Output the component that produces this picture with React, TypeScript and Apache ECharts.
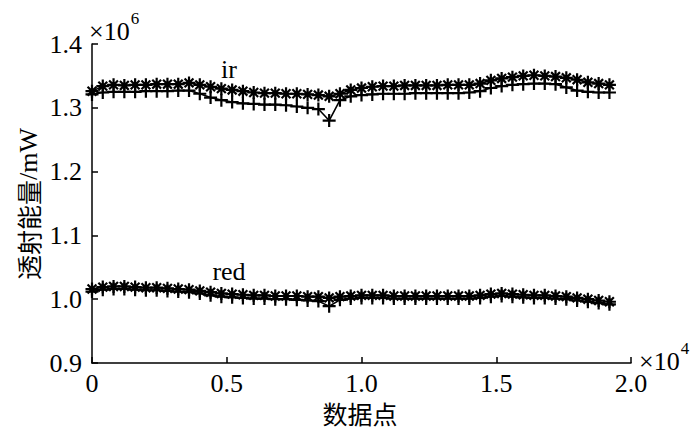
import React, { useEffect, useRef } from "react";
import * as echarts from "echarts";

// x positions of plotted (marker) samples, in data-point index
const xSamples: number[] = [
  0, 400, 800, 1200, 1600, 2000, 2400, 2800, 3200, 3600, 4000, 4400, 4800, 5200, 5600, 6000,
  6400, 6800, 7200, 7600, 8000, 8400, 8800, 9200, 9600, 10000, 10400, 10800, 11200, 11600,
  12000, 12400, 12800, 13200, 13600, 14000, 14400, 14800, 15200, 15600, 16000, 16400, 16800,
  17200, 17600, 18000, 18400, 18800, 19200,
];

// values in units of 10^6 mW
const irStar: number[] = [
  1.326, 1.334, 1.336, 1.335, 1.336, 1.336, 1.337, 1.337, 1.337, 1.339, 1.336, 1.333, 1.330,
  1.328, 1.326, 1.324, 1.323, 1.323, 1.322, 1.322, 1.321, 1.320, 1.318, 1.322, 1.328, 1.331,
  1.333, 1.334, 1.334, 1.335, 1.335, 1.335, 1.335, 1.336, 1.336, 1.336, 1.338, 1.343, 1.346,
  1.348, 1.350, 1.351, 1.350, 1.349, 1.347, 1.344, 1.340, 1.338, 1.336,
];
const irPlus: number[] = [
  1.321, 1.324, 1.325, 1.325, 1.325, 1.326, 1.326, 1.326, 1.327, 1.327, 1.322, 1.316, 1.312,
  1.309, 1.307, 1.306, 1.305, 1.305, 1.304, 1.302, 1.300, 1.298, 1.280, 1.312, 1.318, 1.320,
  1.321, 1.322, 1.322, 1.322, 1.323, 1.323, 1.323, 1.323, 1.323, 1.324, 1.326, 1.331, 1.334,
  1.336, 1.337, 1.338, 1.338, 1.337, 1.332, 1.327, 1.325, 1.324, 1.324,
];
const redStar: number[] = [
  1.016, 1.019, 1.020, 1.020, 1.019, 1.018, 1.018, 1.017, 1.016, 1.015, 1.013, 1.011, 1.009,
  1.008, 1.007, 1.006, 1.006, 1.005, 1.005, 1.005, 1.004, 1.004, 1.002, 1.004, 1.005, 1.006,
  1.006, 1.006, 1.005, 1.005, 1.005, 1.005, 1.005, 1.005, 1.005, 1.005, 1.006, 1.008, 1.009,
  1.008, 1.007, 1.006, 1.006, 1.005, 1.004, 1.002, 1.000, 0.998, 0.996,
];
const redPlus: number[] = [
  1.012, 1.015, 1.016, 1.016, 1.015, 1.014, 1.014, 1.013, 1.012, 1.011, 1.009, 1.006, 1.004,
  1.003, 1.002, 1.001, 1.001, 1.000, 1.000, 0.999, 0.998, 0.997, 0.989, 0.999, 1.001, 1.002,
  1.002, 1.002, 1.001, 1.001, 1.001, 1.001, 1.001, 1.001, 1.001, 1.001, 1.002, 1.004, 1.005,
  1.004, 1.003, 1.002, 1.002, 1.001, 1.000, 0.998, 0.996, 0.994, 0.992,
];

const yMin = 0.9;
const yMax = 1.4;
const yStep = 0.1;
const xMin = 0;
const xMax = 20000;
const xStep = 5000;

const seriesLabels = ["ir", "red"];
const xTitle = "数据点";
const yTitleCjk = "透射能量";
const yTitleUnit = "/mW";

const STAR = "path://M5,0L5,10M0,5L10,5M1.6,1.6L8.4,8.4M8.4,1.6L1.6,8.4";
const PLUS = "path://M5,0L5,10M0,5L10,5";

const SERIF = "'Liberation Serif', 'Times New Roman', serif";
const CJK = "'Noto Sans CJK SC', sans-serif";
const FS = 26;

function pairs(vals: number[]) {
  return vals.map((v, i) => [xSamples[i], v]);
}

function mkSeries(name: string, vals: number[], symbol: string) {
  return {
    name,
    type: "line",
    data: pairs(vals),
    symbol,
    symbolSize: 13,
    showAllSymbol: true,
    lineStyle: { color: "#000", width: 1.6 },
    itemStyle: { color: "#000", borderColor: "#000", borderWidth: 2.2 },
    z: 3,
  };
}

const powerText = (p: string) => ({
  text: "{a|×10}{b|" + p + "}",
  rich: {
    a: { fontSize: FS, fontFamily: SERIF, fill: "#000", verticalAlign: "bottom" },
    b: { fontSize: 17, fontFamily: SERIF, fill: "#000", verticalAlign: "top", padding: [0, 0, 17, 1] },
  },
});

export default function App() {
  const ref = useRef<HTMLDivElement>(null);
  useEffect(() => {
    if (!ref.current) return;
    const chart = echarts.init(ref.current, undefined, { renderer: "svg" });
    chart.setOption({
      animation: false,
      backgroundColor: "#fff",
      grid: { left: 92, right: 69, top: 44, bottom: 76, containLabel: false },
      xAxis: {
        type: "value",
        min: xMin,
        max: xMax,
        interval: xStep,
        axisLine: { show: true, lineStyle: { color: "#000", width: 1.5 } },
        axisTick: { show: true, inside: true, length: 6, lineStyle: { color: "#000", width: 1.5 } },
        splitLine: { show: false },
        axisLabel: {
          color: "#000",
          fontSize: FS,
          fontFamily: SERIF,
          margin: 7,
          formatter: (v: number) => (v === 0 ? "0" : (v / 10000).toFixed(1)),
        },
      },
      yAxis: {
        type: "value",
        min: yMin,
        max: yMax,
        interval: yStep,
        axisLine: { show: true, lineStyle: { color: "#000", width: 1.5 } },
        axisTick: { show: true, inside: true, length: 6, lineStyle: { color: "#000", width: 1.5 } },
        splitLine: { show: false },
        axisLabel: {
          color: "#000",
          fontSize: FS,
          fontFamily: SERIF,
          margin: 10,
          formatter: (v: number) => v.toFixed(1),
        },
      },
      series: [
        mkSeries("ir*", irStar, STAR),
        mkSeries("ir+", irPlus, PLUS),
        mkSeries("red*", redStar, STAR),
        mkSeries("red+", redPlus, PLUS),
      ],
      graphic: [
        { type: "text", left: 89, top: 10, style: powerText("6") },
        { type: "text", left: 639, top: 340, style: powerText("4") },
        {
          type: "text",
          x: 229,
          y: 69,
          style: {
            text: seriesLabels[0],
            fontSize: FS,
            fontFamily: SERIF,
            fill: "#000",
            align: "center",
            verticalAlign: "middle",
          },
        },
        {
          type: "text",
          x: 229,
          y: 271,
          style: {
            text: seriesLabels[1],
            fontSize: FS,
            fontFamily: SERIF,
            fill: "#000",
            align: "center",
            verticalAlign: "middle",
          },
        },
        {
          type: "text",
          x: 360,
          y: 413,
          style: {
            text: xTitle,
            fontSize: 25,
            fontFamily: CJK,
            fill: "#000",
            align: "center",
            verticalAlign: "middle",
          },
        },
        {
          type: "text",
          x: 28,
          y: 204,
          rotation: Math.PI / 2,
          style: {
            text: "{c|" + yTitleCjk + "}{u|" + yTitleUnit + "}",
            align: "center",
            verticalAlign: "middle",
            rich: {
              c: { fontSize: 25, fontFamily: CJK, fill: "#000" },
              u: { fontSize: 26, fontFamily: SERIF, fill: "#000" },
            },
          },
        },
      ],
    });
    return () => chart.dispose();
  }, []);
  return (
    <div
      ref={ref}
      style={{ position: "fixed", left: 0, top: 0, width: 700, height: 439, background: "#fff" }}
    />
  );
}
